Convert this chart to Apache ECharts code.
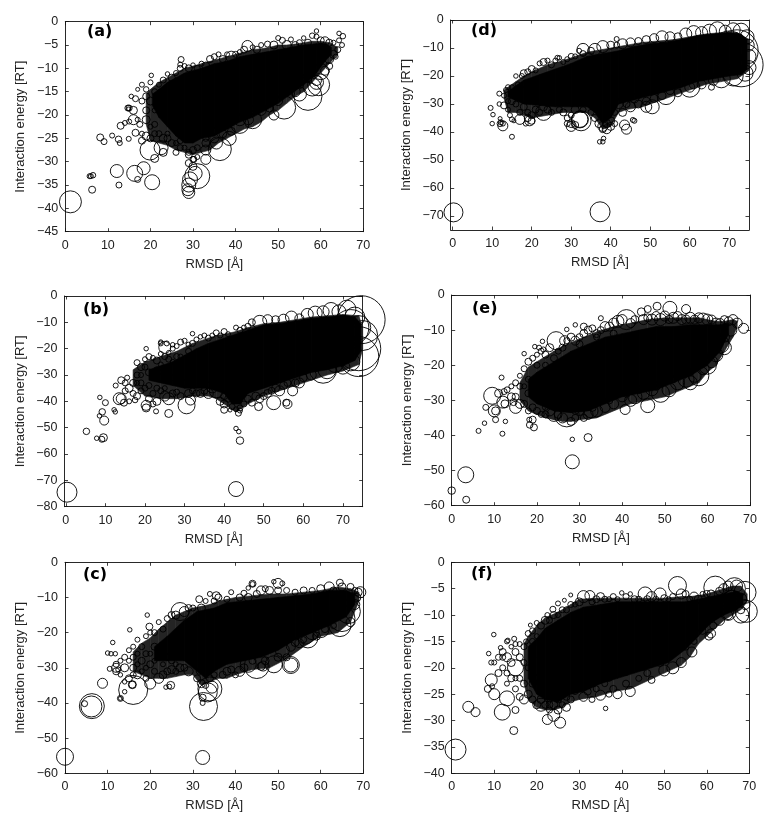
<!DOCTYPE html>
<html><head><meta charset="utf-8">
<script src="https://cdn.jsdelivr.net/npm/echarts@6/dist/echarts.min.js"></script>
<style>html,body{margin:0;padding:0;background:#fff}#c{width:778px;height:819px;filter:blur(0.35px)}</style>
</head><body><div id="c"></div>
<script>
// Solid black part of each cloud: [RMSD, upper energy, lower energy]
const coreA=[[20.5,-15.5,-18],[22,-14.5,-20.5],[24,-13,-22.5],[26,-12,-24.5],[28,-11,-26],[30,-10.5,-26],[32,-10,-25],[35,-9,-24.5],[38,-8.5,-23],[41,-7.5,-21.5],[44,-7,-20.5],[47,-6.5,-19],[50,-6,-17.5],[53,-5.5,-15.5],[56,-5,-13.5],[59,-4.7,-11],[61,-4.7,-8.5],[62.5,-5.5,-7]];
const coreB=[[21,-28,-32],[24,-26.5,-33],[27,-25,-34],[30,-22.5,-35],[33,-20,-35],[36,-18,-35],[40,-16,-37],[42,-15,-41],[44,-14,-41],[46,-13,-37],[50,-11,-35],[54,-10.5,-33],[58,-9.5,-31],[62,-8.5,-29],[66,-8,-28],[70,-7.5,-26.5],[73,-8,-24.5],[74.5,-10.5,-21]];
const coreC=[[21,-24,-28],[24,-21,-28],[28,-16.5,-28],[31,-14,-31],[33,-13.5,-33],[35,-13,-31],[38,-11.5,-29],[42,-11,-28],[46,-10.5,-27],[50,-10,-25],[54,-9.5,-22],[58,-9,-20],[62,-8,-18],[66,-8,-15.5],[68,-9,-12]];
const coreD=[[14,-25.5,-27.5],[18,-21.5,-30],[22,-19.5,-30.5],[26,-17.5,-31],[30,-15.5,-31],[34,-13,-31],[36,-12.5,-33],[38,-12,-37],[40,-11.5,-35],[42,-11,-30],[46,-9.5,-28.5],[50,-8.5,-27],[54,-8,-25.5],[58,-7,-24],[62,-5.5,-22],[66,-5,-21],[70,-4.5,-20],[73,-5,-19.5],[74.5,-7,-17.5]];
const coreE=[[18,-24,-29],[20,-22,-31],[24,-19,-33],[28,-16,-33.5],[32,-14,-33],[36,-12,-31],[40,-11,-29],[44,-10,-28],[48,-9,-27],[52,-9,-25],[56,-8.5,-23],[60,-8.5,-20],[63,-8.5,-16],[65,-8,-11]];
const coreF=[[18,-16,-22],[20,-14.5,-25],[22,-12.5,-26],[25,-11,-26.5],[28,-9.5,-25],[31,-8.5,-24.5],[35,-8,-23],[39,-7.5,-22],[43,-7.5,-21],[47,-7.5,-20],[51,-7.5,-19],[55,-7.5,-16.5],[58,-7,-14],[61,-6.5,-11.5],[64,-6,-10],[67,-5.5,-9],[68.5,-6,-8]];

// Speckled outer part of each cloud: [RMSD, upper energy, lower energy]
const bandA=[[19,-15.5,-22],[20,-14.5,-25.5],[22,-13,-26],[24,-12,-26.5],[26,-11,-27.5],[28,-10,-28],[30,-9.5,-28.5],[32,-9,-28],[34,-8.5,-27.5],[36,-8,-26],[38,-7.5,-25],[40,-7,-24],[42,-6.5,-23],[44,-6,-22.5],[46,-5.8,-21.5],[48,-5.5,-20],[50,-5,-19],[52,-5,-17.5],[54,-4.8,-16],[56,-4.5,-15],[58,-4.2,-13],[60,-4.2,-11],[62,-4.5,-9],[64,-5.5,-7]];
const bandB=[[17,-28,-34],[20,-25,-38],[24,-23,-39],[28,-21,-39],[32,-18,-38],[36,-16,-38],[38,-15,-39],[40,-14.5,-41],[43,-13.5,-44],[46,-12,-41],[50,-10.5,-38],[54,-10,-36],[58,-9,-34],[62,-8,-32],[66,-7.5,-30],[70,-7,-28.5],[74,-7.5,-26],[75,-12,-20]];
const bandC=[[16,-25.5,-31],[18,-23,-32],[20,-21.5,-33],[22,-19,-33],[24,-17,-33],[26,-15,-32.5],[28,-14,-32],[30,-13,-32],[32,-12.5,-35],[34,-12,-34],[36,-11,-33],[38,-10.5,-33],[40,-10,-32],[44,-9.5,-30.5],[48,-9,-30],[52,-9,-27.5],[56,-8.5,-24],[60,-8,-21],[64,-7,-20],[67,-7.5,-17],[69,-8.5,-11]];
const bandD=[[13,-25,-28],[14,-24,-33],[16,-22,-33],[18,-20,-34],[20,-18.5,-35],[24,-16,-34],[28,-14.5,-33],[32,-12.5,-33],[34,-11.5,-33],[36,-11,-35],[38,-10.5,-39],[40,-10,-38],[42,-9.5,-33],[44,-9,-32],[48,-8,-31],[52,-7.5,-29],[56,-7,-27],[60,-6,-25],[64,-5,-23],[68,-4.5,-22],[72,-4.5,-21],[75,-7,-18]];
const bandE=[[16,-25,-30],[18,-20.5,-33],[20,-19,-34],[22,-17.5,-35],[24,-16,-35.5],[26,-14.5,-36],[28,-13.5,-36],[30,-12.5,-35.5],[34,-10.5,-35],[38,-9,-33],[42,-8,-31],[46,-7,-30],[50,-6.5,-29],[54,-6.5,-27],[58,-6.5,-25],[60,-7,-22],[62,-7.5,-20],[64,-7.5,-16],[66,-7,-12],[67,-7.5,-9]];
const bandF=[[17,-15.5,-23],[18,-14,-26],[20,-12,-27.5],[22,-10.5,-28],[24,-9.8,-28],[26,-9,-27.5],[28,-8,-26.5],[30,-7,-26],[34,-6.8,-25.5],[38,-6.8,-24.5],[42,-6.8,-24],[46,-6.8,-22.5],[50,-6.8,-21],[54,-6.5,-19.5],[56,-6.5,-18],[58,-6.3,-15.5],[60,-6,-14],[62,-5.5,-12.5],[64,-5,-11],[66,-4.5,-10],[68,-4.5,-9],[69.5,-6,-7.5]];

// Isolated circles: [RMSD, energy, circle diameter]
const isoA=[[1.2,-38.6,22],[6.3,-36,7],[5.7,-33.1,5],[6,-33.1,5],[6.5,-32.9,5.5],[12.1,-32,13],[12.6,-35,6],[16.3,-32.5,16],[17,-33.8,6],[18.4,-31.4,13],[20.4,-34.4,15],[8.2,-24.8,7],[9.1,-25.7,6],[11,-24.4,5],[12.5,-25.2,6.5],[12.8,-26,5],[14.9,-25.1,5],[29,-36.6,12],[28.8,-36,12],[29,-35,14],[29.3,-33.8,15],[31,-33.1,25],[30.5,-32.5,14],[36.3,-27.3,23],[51.4,-18.4,23],[57,-16,28],[19.9,-27.5,20]];
const isoB=[[0.3,-74.5,20],[43,-73.3,15],[44,-54.9,7.5],[43.7,-51.5,4.5],[43,-50.3,4.5],[5.2,-51.4,6.5],[7.8,-54,4.5],[9.1,-54.4,6],[9.5,-53.8,8],[9.7,-47.3,9],[9.2,-44,6.5],[8.5,-45.5,4.5],[8.6,-38.5,4.5],[10,-40.5,6],[12.2,-43.2,4.5],[12.5,-44,4.5],[12.6,-34,5],[13.5,-39,12],[14,-39,10],[14.7,-40.5,7],[26,-44.6,8],[30.5,-41.5,17],[31.5,-39.5,10],[20.3,-41.5,10],[20.3,-42.5,8],[22.8,-43.8,5],[40,-43.2,7],[41.5,-43.3,4],[43.6,-44.5,6],[44,-42.5,6],[48.7,-42,8],[52.5,-40.5,14],[56,-41,9],[55.7,-40.5,7],[57.3,-36,10],[54,-36,10],[20.3,-20,4.5],[25,-19.5,12],[24,-17.5,4.5],[32,-14.3,4.5],[74.6,-9,48],[74,-20,44],[74,-23,40],[65,-28,27],[72,-12,36],[70,-13,30]];
const isoC=[[0,-55.3,17],[32.3,-55.5,14],[32.5,-41,28],[6.3,-40.9,25],[6.2,-41,21],[4.6,-40.2,6],[8.8,-34.4,10],[16,-36.3,29],[20,-34.5,11],[15.8,-34.8,8],[15.8,-34.8,7],[13,-38.7,6],[13,-38.7,4],[14,-36.8,4.5],[24.8,-35,8],[24.5,-35.3,4.5],[23.7,-35.5,4.5],[32.3,-40,5],[32.3,-38.5,7],[33.5,-37,19],[34,-36,24],[34.5,-35.5,12],[32,-34.5,8],[53,-29.2,17],[53,-29.2,14],[45,-29.5,25],[43,-29,16],[49,-29,17],[46.5,-29.5,10],[46,-29.6,8],[54,-22.8,8],[56.5,-21,16],[57,-21.5,20],[58,-20,14],[60,-19,17],[64.5,-18,22],[65,-16,26],[66.5,-14,24],[44,-6.1,7],[44,-6.2,5],[43,-7.3,4.5],[50,-6,10],[49,-5.5,4.5],[51,-6,5],[64.5,-5.8,7],[69.3,-8.5,11],[68.8,-8.5,8],[31.5,-10.5,7],[34,-9,5],[35.5,-9.5,8],[19.3,-15,4.5],[15.2,-19.2,4.5],[19.8,-18.3,7],[11.2,-22.8,4.5],[10,-25.8,4.5],[10.8,-26,4.5],[11.8,-26,4.5],[10.5,-30.3,5],[12,-31,7],[12,-30,9],[27,-14,18]];
const isoD=[[0.2,-68.7,19],[37.3,-68.5,20],[37.2,-43.5,4.5],[38,-43.5,4.5],[38.2,-42.3,4.5],[15,-41.7,5],[9.6,-31.4,5],[10.2,-33.8,4.5],[10,-37,4.5],[11.8,-30,4.5],[11.8,-26.3,5],[12,-35.2,4],[12.2,-36.5,5],[12,-37,6],[12.7,-37,5],[12.7,-37.8,10],[13,-30.5,7],[32.2,-35.5,17],[32.2,-35.5,16],[32.5,-36,20],[30,-38,10],[30,-37,8],[43.5,-37.5,10],[44,-39,10],[45.6,-35.7,5],[46,-36,5],[65.5,-24,6],[61,-23,9],[17,-35.5,10],[19.5,-36,10],[23,-33,16],[50.5,-31,14],[49,-31,11],[54,-27,18],[60,-24,20],[72,-11,42],[73,-16,44],[70,-10,34],[41.5,-6.8,5]];
const isoE=[[0,-55.7,7.5],[3.4,-58.3,7],[3.3,-51.2,16],[28.3,-47.5,14],[28.3,-41.1,4.5],[32,-40.6,8],[6.3,-38.7,5],[7.7,-36.5,4.5],[11.9,-39.5,5],[12.6,-36,4.5],[10.3,-35.5,6],[18.3,-37,6.5],[19.3,-37.7,7],[19,-35.5,7],[18.2,-35.5,5],[11.7,-23.5,5],[9.5,-28.7,17],[8,-32,6],[10.3,-33,8],[10,-33,12],[12,-30.5,12],[12.5,-31,8],[11,-28,8],[12.3,-27.5,6],[15,-32,12],[14.5,-30.5,7],[40.7,-32.6,10],[46,-31.5,14],[27,-34,25],[32.7,-33,14],[51.2,-3.8,14],[48.2,-3.2,8],[46,-4,7],[44.5,-4.8,8],[55,-4,9],[41,-7,20],[24.5,-13,18],[26.5,-13,10],[27,-9.8,4.5],[29,-8.5,4.5],[31,-9,7],[35,-6.6,5],[17,-16.7,4.5],[19.5,-14.7,4.5],[20.5,-15,5],[21.3,-13.2,4.5],[21.5,-15.5,5],[58,-23,20],[60,-20,18],[56,-25,14],[63,-14,18],[67,-8,10],[68.5,-9.5,10],[66,-7,10]];
const isoF=[[0.9,-35.5,21],[14.6,-31.9,8],[25.5,-30.4,11],[22.5,-29.8,10],[11.9,-28.4,16],[13,-25.8,15],[15,-28,7],[3.9,-27.4,11],[5.6,-28.4,9],[36.2,-27.7,4.5],[10,-25,11],[8.5,-24,7],[9.3,-22.3,12],[8.7,-17.3,4.5],[9.9,-13.7,4.5],[9.3,-19,5],[9.5,-23.5,5],[24,-29,12],[25,-28,8],[27,-27.5,8],[23,-27,7],[21,-27,13],[53.1,-4.4,18],[62,-4.8,23],[66.5,-5,22],[69,-5.7,22],[69.3,-9.3,22],[68,-10,16],[66,-7,18],[65,-9.5,16],[31,-6.5,12],[32.5,-6.3,10],[35,-6.5,8],[45.5,-6,14],[47,-6.5,10],[49,-6,12],[54,-6,10],[57,-6.5,9],[23.8,-8.9,6],[25,-7.8,5],[26.5,-7.2,4],[28,-6.2,4],[22.5,-10,5],[18.5,-11.9,4]];

// Circles along the edge of each cloud: [RMSD, energy, circle diameter]
const edgeA=[[22,-13.5,5],[23,-12.5,6],[20.2,-11.5,4.5],[20,-13,5],[19,-14.5,5.5],[18,-13.5,5],[15.5,-16,4.5],[16.5,-16.5,6],[17,-14.5,4],[24,-11.2,4.5],[25,-12,7],[26,-11,5],[27,-10,6],[27,-9.2,5],[27.2,-8.1,6],[28,-9.5,5],[29,-10,7],[30,-9.3,4.5],[31,-10,6],[32,-9,5],[33,-9.5,8],[34,-8,7],[35,-7.5,6],[36,-7,5],[37,-8,7],[38,-7,5],[39,-7.5,11],[40,-7,6],[41,-6.5,5],[42,-6,7],[42.8,-5.2,11],[44,-5.5,5],[45,-6,7],[46,-5,5],[47.5,-4.8,6],[49,-5,8],[50,-3.5,5],[51,-4,6],[52,-5,9],[53,-3.8,5],[54,-5,7],[55,-4.5,6],[56,-3.5,4.5],[57,-4.5,7],[58,-3,5.5],[59,-3.2,5],[59,-2,4.5],[60,-4,7],[61,-4.2,9],[62,-4.5,7],[63,-4.5,5],[64.3,-2.5,4.5],[65.2,-3.1,5.5],[64.3,-4,5],[65,-5,5],[64,-6,6],[63,-7,8],[62,-8,9],[63.5,-7.5,5],[62,-9.5,7],[61,-10.5,9],[60,-10.7,16],[59,-12.6,10],[59,-13,14],[58,-14,18],[59.5,-13.5,22],[57,-12,8],[55,-13.5,8],[55,-15.5,14],[54,-15,10],[52,-15,8],[50,-17,9],[49,-20,10],[48,-18.5,8],[46,-19,10],[44,-21,18],[44,-19,8],[43,-21,10],[41,-22,18],[41,-21,12],[39,-23.5,8],[38.5,-25,14],[37,-24,8],[35.5,-26,12],[35,-25,9],[33,-26,8],[33,-27.5,10],[33,-29.5,10],[31,-27,6],[30,-27.5,7],[29,-28,6],[28,-27,5],[27,-27,6],[26,-28,6],[25,-26,7],[24,-25,7],[23,-25,8],[23,-28,8],[22.5,-27,14],[21,-29.3,8],[22,-24,6],[21,-24,6],[20,-25,7],[19,-24.5,8],[18,-25.5,7],[18,-24,5],[17,-21,5],[16,-19,8],[15,-18.5,6],[14.7,-18.5,6],[14.9,-18.7,4],[16,-21,10],[13,-22.3,7],[14,-21.7,5],[15,-21.4,5],[16.5,-23.8,7],[17.5,-22,6],[19,-21,8],[19,-19,7],[20,-17,8],[19,-16,7],[18,-17,6],[21,-22,6],[21,-19,5],[20,-22.5,5],[29,-28.5,7],[30,-29.5,6],[29,-30.3,7],[30,-31,8],[30.2,-29.5,6],[31,-29,5],[22,-16,6],[23,-15,5],[21,-15,6],[24,-24,5],[26,-26,5],[27,-25.5,6],[35,-23.5,6],[37,-22.5,7],[42,-20,6],[46,-18,6],[52,-14,5],[56,-12,6],[33,-25,6],[38,-22,5]];
const edgeB=[[18,-25.3,6],[19,-27,7],[20,-24,5],[21,-23,6],[22,-23.5,5],[23,-24.5,7],[24,-22,5],[25,-23,6],[26,-21.5,4.5],[27,-20,5],[28,-19,5],[29,-17.5,6],[30,-17,5],[31,-18.5,5],[32,-18,6],[33,-16.5,5],[34,-15.5,4.5],[35,-15,5],[36,-16,6],[37,-15,5],[38,-14,6],[39,-15,5],[40,-13.5,6],[41,-14.5,5],[43,-12,5],[44,-13,6],[45,-12,5],[46,-11.5,6],[47,-10,7],[49,-10,14],[51,-9,10],[53,-9,8],[55,-9,11],[57,-8,12],[59,-8.5,9],[61,-7,12],[63,-6.5,14],[65,-6,12],[67,-5.5,16],[69,-6,14],[71,-5,18],[24,-18,5],[25.5,-18,5],[27,-18.5,4.5],[14,-32,7],[15,-33,6],[15.5,-31,5],[16,-35,8],[17,-33,7],[18,-30,6],[19,-33,6],[17,-37,6],[15,-36,6],[18,-38,7],[17.5,-39.5,5.5],[16,-40,5],[19,-36,6],[20,-35,6],[21,-39,7],[22,-37,6],[23,-40,8],[22,-41,6],[24,-36,6],[25,-38,10],[26,-39,12],[27,-37,7],[28,-36.5,6],[29,-38,7],[31,-37,8],[32,-36,6],[33,-37,7],[34,-37,8],[35,-36,7],[36,-37,10],[37,-34.5,12],[38,-36,14],[39,-40,8],[40,-38,7],[40,-41,8],[41,-39,7],[42,-42,6],[43,-43,5],[44,-43.5,5],[45,-41,6],[46,-39,7],[47,-40.5,7],[48,-38,8],[49,-39,8],[50,-38,7],[51,-37,8],[52,-36,7],[53,-35,8],[55,-34,8],[56,-33,7],[58,-33,8],[59,-33,10],[60,-31,8],[62,-30,10],[63,-27,9],[66,-28,18],[68,-26,16],[70,-27,14],[72,-25,18],[75,-15,30],[74,-12,24],[73,-8,20],[20,-27,6],[21,-29,7],[22,-31,6],[23,-28,6],[24,-31,7],[25,-28,5],[26,-32,6],[27,-25,5],[28,-30,7],[29,-23,5],[30,-33,6],[18,-33,5],[19,-30,5],[23,-35,6],[21,-34,6],[25,-35,5],[28,-23,6],[26,-24,6],[24,-26,5],[31,-21,6]];
const edgeC=[[14,-27,6],[15,-25,5],[16,-24,5],[17,-22,5],[18,-24,6],[19,-21,5],[20,-20,5],[21,-20,6],[22,-17,5],[23,-19,6],[24,-16,6],[25,-15,7],[26,-15,8],[28,-14,10],[29,-13,7],[30,-13,6],[32,-13,8],[33,-11,5],[35,-11,6],[36,-10,7],[38,-10.5,6],[39,-8.5,5],[41,-10,7],[42,-8.8,6],[43,-10,8],[45,-9,7],[46,-8,9],[47,-7.5,6],[48,-8,8],[50,-8,7],[52,-8,6],[54,-8.5,6],[56,-8,7],[58,-8,6],[60,-7.5,8],[62,-7,10],[63,-8,7],[65,-7,8],[67,-7,7],[68,-8,6],[68.5,-10,8],[68,-12,10],[14,-30,8],[15,-33,7],[16,-30,7],[17,-32,8],[18,-28,7],[19,-33,6],[20,-29,7],[21,-31,6],[22,-33,10],[23,-32,8],[24,-31,7],[25,-30.5,8],[26,-31,6],[27,-30,8],[28,-30,7],[29,-31,9],[16,-27,6],[18,-31,5],[20,-26,5],[22,-27,6],[24,-27,6],[23,-24,6],[21,-24,7],[19,-26,6],[17,-26,5],[26,-29,5],[31,-33,7],[31.5,-31,6],[33,-35,6],[34,-33,7],[35,-32,6],[37,-32,7],[38,-31,8],[39,-30.5,7],[40,-32,6],[41,-31,10],[42,-30,8],[44,-28,7],[47,-28,8],[50,-27,8],[51,-25,14],[52,-27,7],[53,-24,9],[55,-23,9],[56,-22,6],[59,-21,8],[61,-19,7],[63,-18,6],[67,-17,9],[12,-29,6],[13,-28,5],[12.5,-30.5,5],[13,-32,4.5],[14,-34,4.5],[16,-32,6],[19,-30,5],[25,-25,5],[27,-26,5],[29,-27,5],[21,-28,5],[23,-29,5],[25,-28,6],[17,-29,5],[15,-28,5]];
const edgeD=[[15,-24,5],[16,-20,4.5],[16.5,-23,5],[17,-24,6],[17.5,-20,5],[18,-19,7],[19,-18.5,6],[20,-17.5,7],[21,-18,5],[22,-15.5,5],[23,-15,7],[24,-14.5,5],[25,-16,6],[26,-14.5,5],[26.5,-13.5,5],[27,-13.5,4.5],[28,-15,5],[29,-14,5],[30,-13,6],[31,-13,5],[32,-11,5],[33,-12,6],[33,-10.5,12],[35,-11,7],[36,-10.5,12],[38,-9.5,12],[40,-9,8],[41.5,-9,6],[43,-8.5,10],[45,-8,9],[47,-7.5,7],[49,-7,8],[51,-6.5,9],[53,-6,12],[55,-6,10],[57,-6,8],[59,-5,12],[61,-4.5,14],[63,-4.5,12],[65,-4,14],[67,-3.5,16],[69,-4,12],[71,-3.5,14],[73,-4,16],[74.5,-6,14],[74.8,-9,12],[75,-13,14],[75,-17,14],[74,-19,16],[71,-20,20],[68,-21,18],[66,-21.5,10],[63,-23,9],[60,-24,10],[57,-26,8],[55,-25,9],[53,-27,8],[51,-28,8],[49,-29,8],[47,-30,8],[46,-28,9],[45,-31,10],[44,-30,7],[43,-33,8],[42,-30,9],[41,-33,6],[40,-36,8],[39,-37,8],[38,-38,10],[37,-37,8],[36,-35,7],[35,-33,6],[33,-32,6],[31,-32,8],[30,-34,6],[29,-35,6],[28,-33,7],[27,-32,6],[25,-33,6],[24,-32,7],[23,-31,8],[22,-33,6],[21,-32,7],[20,-34,7],[19,-33,6],[18,-31,7],[17,-33,6],[16,-30,6],[15,-29,7],[14,-32,5],[14.5,-34,5],[15,-35.5,5],[15.5,-36,4],[14,-29,5],[13,-27,5],[13.5,-25,5],[14,-24,5],[19,-35,7],[20,-36,7],[18.5,-37,5],[29,-37,6],[31,-37.5,7],[38,-39,7],[39,-39,9],[40,-38,8],[41,-37,6]];
const edgeE=[[15,-25,6],[16,-23,5],[17,-21,6],[18,-19,7],[19,-18,6],[20,-17,5],[21,-16,6],[22,-17,7],[23,-15,8],[25,-16,6],[26,-15,7],[27,-13,6],[28,-12,8],[29,-13,9],[30,-12,7],[31,-11,8],[32,-10,8],[33,-9.5,7],[34,-11,8],[35,-10,7],[36,-9,10],[37,-9,9],[38,-8,10],[39,-7.5,12],[40,-7,10],[42,-8,9],[43,-7,8],[45,-7,10],[46,-6.5,8],[47,-7,11],[48,-6,9],[49,-7,12],[50,-6,10],[51,-7,8],[52,-6.5,11],[53,-6,9],[54,-7,10],[55,-7,9],[56,-6.5,11],[57,-7,9],[58,-6.5,10],[59,-7,13],[60,-7,11],[61,-7,9],[62,-8,10],[63,-8,9],[64,-7,8],[65,-7.5,9],[65.5,-10,12],[64,-12,10],[64,-15,14],[62,-17,14],[61,-19,12],[59,-21,12],[57,-23,13],[55,-24,16],[53,-25,14],[51,-27,14],[49,-28,18],[47,-27,12],[45,-28,12],[43,-29,14],[42,-30,12],[40,-29,10],[38,-31,10],[36,-32,10],[34,-33,12],[32,-34,10],[31,-35,7],[30,-33,9],[29,-35,7],[28,-36,8],[26,-35,10],[25,-34,8],[24,-34,14],[23,-33,10],[22,-34,7],[21,-34,6],[20,-33,7],[19,-32,7],[18,-33,6],[17,-31,7],[16,-31,9],[15,-29,7],[14,-29,8],[13,-27,6],[14,-26,5],[16,-26,6],[18,-24,6],[19,-28,6],[21,-30,6],[22,-20,6],[24,-18,7],[20,-20,6],[18,-28,7],[17,-26,5],[22,-32,6],[25,-31,6],[27,-32,6],[29,-33,7],[33,-32,8],[37,-30,7],[41,-28,8],[44,-27,7],[48,-26,8],[52,-24,7],[56,-22,7],[60,-18,7],[30,-14,7],[34,-12,6],[38,-11,7]];
const edgeF=[[12,-17,7],[11.5,-16.2,4.5],[13,-15,5],[13.2,-14.8,4.5],[14,-16,4.5],[14.7,-14.5,5],[15,-15.5,5],[16,-15.5,5],[17,-16,6],[17.5,-15,5],[18,-13.5,6],[19,-13,6],[20,-11.5,5],[21,-12,7],[22,-11,8],[23,-11,6],[24,-10,7],[25,-10,5],[26,-9,6],[27,-9,6],[28,-8,6],[29,-8,5],[30,-7.5,8],[33,-7.5,6],[34,-7,7],[36,-7,6],[37,-7,5],[38,-6.5,6],[39,-7,5],[40,-5.8,4.5],[41,-6.5,6],[42,-6,4.5],[43,-7,7],[44,-7,6],[46,-7,7],[48,-7,6],[50,-6.8,7],[51,-7,5],[52,-6.5,6],[55,-6,7],[56,-7,6],[58,-7,8],[59,-6,5],[60,-6,7],[61,-6,8],[63,-5.5,8],[64,-5,10],[65,-4.5,10],[67,-4.5,12],[68,-7,12],[69,-8,10],[68,-9,8],[65,-10,9],[63,-11,10],[61.5,-12,7],[60.5,-14,8],[61,-13.5,9],[59,-13,7],[57,-15,6],[56.5,-17,10],[55,-16,7],[54,-19,10],[52,-20,12],[50,-20.5,11],[49,-19,8],[47,-22.3,7],[46,-21,7],[44,-22,6],[42,-24.5,10],[41,-23,7],[39,-25,9],[38,-24,7],[37,-25,6],[36,-23,6],[35,-25.2,10],[34,-24,6],[33,-26,6],[32,-24.5,7],[31,-25.5,9],[29,-24.5,6],[28,-26,7],[27,-25.5,7],[26,-27,6],[25,-26,7],[24,-27,8],[23,-28,6],[22,-27,7],[21,-26,8],[20,-27,8],[19,-26,7],[18,-25,8],[17,-26,9],[16,-25.5,7],[15,-24,6],[14,-22,7],[13,-21,6],[12,-20,6],[11,-18,6],[10,-19,5],[11,-21,7],[13,-18,9],[15,-20,16],[14,-19,8],[15,-17,7],[16,-18,7],[16,-22,6],[17,-19,6],[17,-23,7],[18,-20,6],[13,-23,5],[15,-22,5],[19,-23,7],[12,-18,6],[20,-22,6],[21,-24,5],[19,-18,6],[19,-15,6],[20,-14,5],[23,-26,5],[29,-23,5],[33,-23,5],[37,-22,6],[41,-21,5],[45,-20,5],[49,-18,6],[53,-17,5],[57,-14,6],[63,-9,7]];

const xTicks=[0,10,20,30,40,50,60,70];
const yTicksA=[0,-5,-10,-15,-20,-25,-30,-35,-40,-45];
const yTicksB=[0,-10,-20,-30,-40,-50,-60,-70,-80];
const yTicksC=[0,-10,-20,-30,-40,-50,-60];
const yTicksD=[0,-10,-20,-30,-40,-50,-60,-70];
const yTicksE=[0,-10,-20,-30,-40,-50,-60];
const yTicksF=[0,-5,-10,-15,-20,-25,-30,-35,-40];
const panelLabels=['(a)','(b)','(c)','(d)','(e)','(f)'];
const xName='RMSD [Å]', yName='Interaction energy [RT]';

const panels=[
 {t:panelLabels[0],core:coreA,band:bandA,iso:isoA,edge:edgeA,yt:yTicksA,xr:[0,70],yr:[-45,0],b:[65.3,363.3,21.7,231.7],lab:[101,34]},
 {t:panelLabels[1],core:coreB,band:bandB,iso:isoB,edge:edgeB,yt:yTicksB,xr:[-0.33,75],yr:[-80,0],b:[64.5,362.7,296,506.7],lab:[97,312]},
 {t:panelLabels[2],core:coreC,band:bandC,iso:isoC,edge:edgeC,yt:yTicksC,xr:[0,70],yr:[-60,0],b:[65,363.3,562.3,773.3],lab:[97,577]},
 {t:panelLabels[3],core:coreD,band:bandD,iso:isoD,edge:edgeD,yt:yTicksD,xr:[-0.5,75],yr:[-75,0],b:[450.7,749,20,230],lab:[485,33]},
 {t:panelLabels[4],core:coreE,band:bandE,iso:isoE,edge:edgeE,yt:yTicksE,xr:[0,70],yr:[-60,0],b:[451.7,750,295,505.7],lab:[486,311]},
 {t:panelLabels[5],core:coreF,band:bandF,iso:isoF,edge:edgeF,yt:yTicksF,xr:[0,70],yr:[-40,0],b:[451.7,749.3,562.3,773.3],lab:[485,576]}
];
const INK='#111', FONT='"Liberation Sans",Arial,sans-serif';
const minus=v=>String(v).replace('-','\u2212');
const grid=[],xAxis=[],yAxis=[],series=[],graphic=[];
panels.forEach((p,i)=>{
  grid.push({left:p.b[0],top:p.b[2],width:p.b[1]-p.b[0],height:p.b[3]-p.b[2],show:false});
  const line={show:true,lineStyle:{color:INK,width:0.9}};
  const tick=vals=>({show:true,inside:true,length:3.5,lineStyle:{color:INK,width:0.8},customValues:vals});
  const lab=vals=>({show:true,color:'#222',fontFamily:FONT,fontSize:12.5,margin:7,customValues:vals,formatter:minus,showMinLabel:true,showMaxLabel:true,hideOverlap:false});
  xAxis.push({type:'value',gridIndex:i,position:'bottom',min:p.xr[0],max:p.xr[1],splitLine:{show:false},axisLine:{...line,onZero:false},axisTick:tick(xTicks),axisLabel:lab(xTicks),
    name:xName,nameLocation:'middle',nameGap:26,nameTextStyle:{color:'#222',fontFamily:FONT,fontSize:13}});
  yAxis.push({type:'value',gridIndex:i,position:'left',min:p.yr[0],max:p.yr[1],splitLine:{show:false},axisLine:{...line,onZero:false},axisTick:tick(p.yt),axisLabel:lab(p.yt),
    name:yName,nameLocation:'middle',nameGap:38,nameRotate:90,nameTextStyle:{color:'#222',fontFamily:FONT,fontSize:13}});
  xAxis.push({type:'value',gridIndex:i,position:'top',min:p.xr[0],max:p.xr[1],splitLine:{show:false},axisLine:{...line,onZero:false},axisTick:tick(xTicks),axisLabel:{show:false}});
  yAxis.push({type:'value',gridIndex:i,position:'right',min:p.yr[0],max:p.yr[1],splitLine:{show:false},axisLine:{...line,onZero:false},axisTick:tick(p.yt),axisLabel:{show:false}});
  const xi=i*2, yi=i*2;
  const area=(rows,fill,z)=>({type:'custom',xAxisIndex:xi,yAxisIndex:yi,clip:false,silent:true,z,data:rows,encode:{x:0,y:[1,2]},
    renderItem:(params,api)=>{
      const k=params.dataIndex; if(k>=rows.length-1) return null;
      const a=rows[k], b=rows[k+1];
      return {type:'polygon',shape:{points:[api.coord([a[0],a[1]]),api.coord([b[0],b[1]]),api.coord([b[0],b[2]]),api.coord([a[0],a[2]])]},style:{fill,stroke:fill,lineWidth:0.6}};
    }});
  series.push(area(p.band,'#242424',1));
  series.push(area(p.core,'#000',2));
  const ring=(data,z)=>({type:'scatter',xAxisIndex:xi,yAxisIndex:yi,clip:false,silent:true,z,data,symbol:'circle',symbolSize:d=>d[2],itemStyle:{color:'rgba(0,0,0,0)',borderColor:'#000',borderWidth:0.9,opacity:1}});
  series.push(ring(p.edge,3));
  series.push(ring(p.iso,4));
  graphic.push({type:'text',left:p.lab[0]-14,top:p.lab[1]-10,z:10,style:{text:p.t,fill:'#000',font:'bold 16px "DejaVu Sans",sans-serif'}});
});
const chart=echarts.init(document.getElementById('c'),null,{renderer:'canvas',width:778,height:819});
chart.setOption({animation:false,backgroundColor:'#fff',grid,xAxis,yAxis,series,graphic});
</script></body></html>
